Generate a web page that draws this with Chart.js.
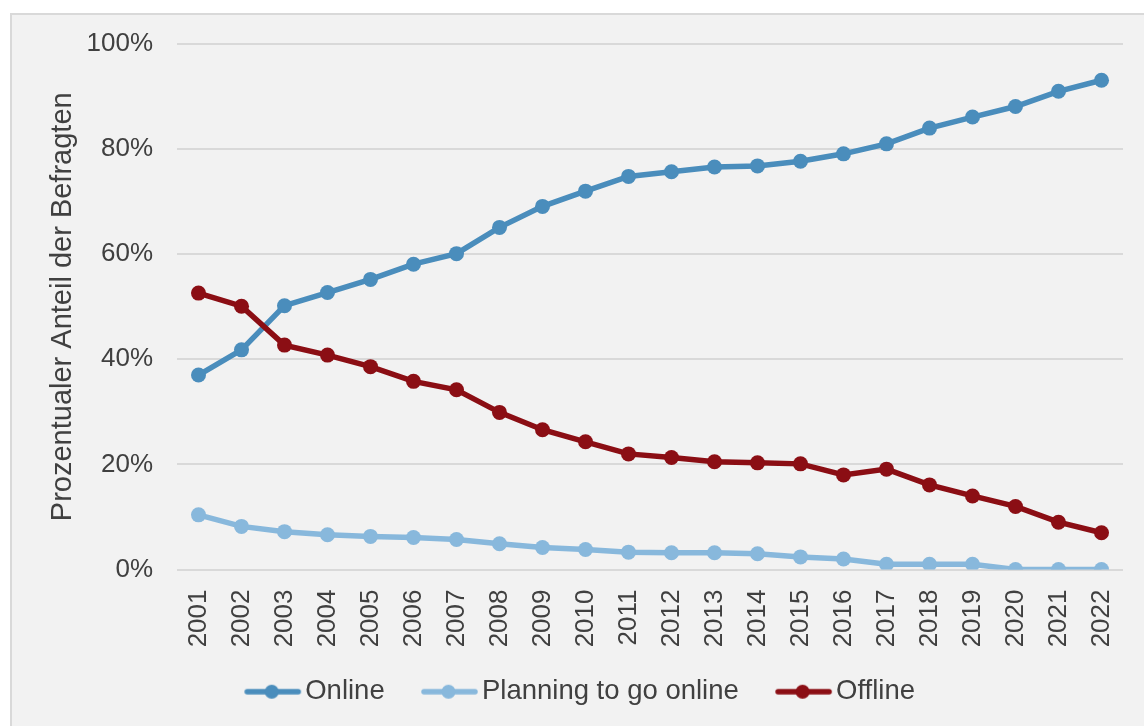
<!DOCTYPE html>
<html>
<head>
<meta charset="utf-8">
<script src="https://cdn.jsdelivr.net/npm/chart.js@4.4.1/dist/chart.umd.min.js"></script>
<style>
  html, body { margin: 0; padding: 0; background: #ffffff; overflow: hidden; }
  #frame { position: absolute; left: 10px; top: 13px; width: 1200px; height: 800px;
           background: #f2f2f2; border: 2px solid #d9d9d9; }
  #chart { position: absolute; left: 0; top: 0; }
</style>
</head>
<body>
<div id="frame"></div>
<canvas id="chart" width="1144" height="726"></canvas>
<script>
var years = ["2001", "2002", "2003", "2004", "2005", "2006", "2007", "2008", "2009", "2010", "2011",
             "2012", "2013", "2014", "2015", "2016", "2017", "2018", "2019", "2020", "2021", "2022"];
var online = [37.0, 41.8, 50.2, 52.7, 55.2, 58.1, 60.1, 65.1, 69.1, 72.0, 74.8,
              75.7, 76.6, 76.8, 77.7, 79.1, 81.0, 84.0, 86.1, 88.1, 91.0, 93.1];
var planning = [10.4, 8.2, 7.2, 6.6, 6.3, 6.1, 5.7, 4.9, 4.2, 3.8, 3.3,
                3.2, 3.2, 3.0, 2.4, 2.0, 1.0, 1.0, 1.0, 0, 0, 0];
var offline = [52.6, 50.1, 42.7, 40.8, 38.6, 35.8, 34.2, 29.9, 26.6, 24.3, 22.0,
               21.3, 20.5, 20.3, 20.1, 18.0, 19.1, 16.1, 14.0, 12.0, 9.0, 7.0];
var seriesnames = ["Online", "Planning to go online", "Offline"];
var seriescolors = ["#4a8dbc", "#88b8dc", "#8b0e14"];

var fontfamily = "'Liberation Sans', Arial, sans-serif";
var textcolor = "#404040";

//legend marker: line with a dot, padded on the left so the text sits close
function legendmarker(color) {
  var c = document.createElement("canvas");
  c.width = 97;
  c.height = 18;
  var x = c.getContext("2d");
  x.strokeStyle = color;
  x.lineWidth = 5.5;
  x.lineCap = "round";
  x.beginPath();
  x.moveTo(c.width - 59 + 3, 9);
  x.lineTo(c.width - 5, 9);
  x.stroke();
  x.fillStyle = color;
  x.beginPath();
  x.arc(c.width - 31.5, 9, 7, 0, Math.PI * 2);
  x.fill();
  return c;
}
var markers = seriescolors.map(legendmarker);

var seriesdata = [online, planning, offline];
var datasets = seriesnames.map(function(name, i) {
  return {
    label: name,
    data: seriesdata[i],
    borderColor: seriescolors[i],
    backgroundColor: seriescolors[i],
    borderWidth: 5.5,
    pointRadius: 7.5,
    pointHoverRadius: 7.5,
    pointBorderWidth: 0,
    pointBackgroundColor: seriescolors[i],
    tension: 0,
    order: 3 - i
  };
});

new Chart(document.getElementById("chart"), {
  type: "line",
  data: { labels: years, datasets: datasets },
  options: {
    responsive: false,
    animation: false,
    devicePixelRatio: 1,
    layout: { padding: { left: 10, top: 44, right: 21, bottom: 10.5 } },
    plugins: {
      tooltip: { enabled: false },
      legend: {
        position: "bottom",
        labels: {
          usePointStyle: true,
          pointStyleWidth: 73.5,
          padding: 10,
          color: textcolor,
          font: { family: fontfamily, size: 27.5 },
          sort: function(a, b) { return a.datasetIndex - b.datasetIndex; },
          generateLabels: function(chart) {
            var items = Chart.defaults.plugins.legend.labels.generateLabels(chart);
            items.forEach(function(item) { item.pointStyle = markers[item.datasetIndex]; });
            return items;
          }
        }
      }
    },
    scales: {
      x: {
        offset: true,
        grid: { display: false, drawTicks: false },
        border: { display: false },
        ticks: {
          autoSkip: false, maxRotation: 90, minRotation: 90, padding: 20,
          color: textcolor, font: { family: fontfamily, size: 26 }
        },
        afterFit: function(scale) {
          scale.height = 98.5;
          scale.paddingLeft = 0;
          scale.paddingRight = 0;
        }
      },
      y: {
        min: 0,
        max: 100,
        grid: { color: "#d9d9d9", lineWidth: 2, drawTicks: false },
        border: { display: false },
        ticks: {
          stepSize: 20, padding: 24,
          color: textcolor, font: { family: fontfamily, size: 26 },
          callback: function(v) { return v + "%"; }
        },
        title: {
          display: true,
          text: "Prozentualer Anteil der Befragten",
          color: textcolor,
          font: { family: fontfamily, size: 29 },
          padding: { top: 36, bottom: 0 }
        },
        afterFit: function(scale) { scale.width = 167; }
      }
    }
  }
});
</script>
</body>
</html>
